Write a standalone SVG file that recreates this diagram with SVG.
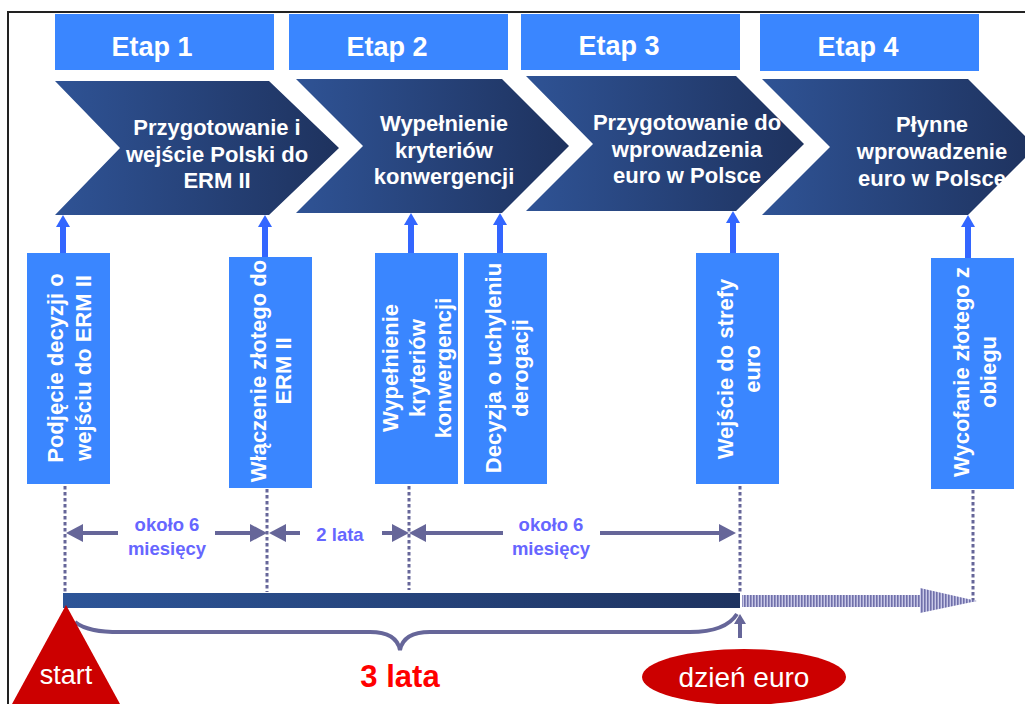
<svg xmlns="http://www.w3.org/2000/svg" width="1025" height="704" viewBox="0 0 1025 704">
<defs>
<linearGradient id="chev" x1="0" y1="0" x2="1" y2="0">
<stop offset="0" stop-color="#2f5395"/>
<stop offset="1" stop-color="#1e325e"/>
</linearGradient>
<linearGradient id="bar" x1="0" y1="0" x2="1" y2="0">
<stop offset="0" stop-color="#2d5598"/>
<stop offset="1" stop-color="#1e3360"/>
</linearGradient>
<pattern id="stripes" x="0" y="0" width="3" height="10" patternUnits="userSpaceOnUse">
<rect width="3" height="10" fill="#c9c9e8"/>
<rect width="1.6" height="10" fill="#7070aa"/>
</pattern>
<marker id="dh" viewBox="0 0 17 18" refX="3" refY="9" markerWidth="17" markerHeight="18" markerUnits="userSpaceOnUse" orient="auto">
<path d="M0,0 L17,9 L0,18 z" fill="#666699"/>
</marker>
<marker id="bh" viewBox="0 0 12 14" refX="2" refY="7" markerWidth="12" markerHeight="14" markerUnits="userSpaceOnUse" orient="auto">
<path d="M0,0 L12,7 L0,14 z" fill="#3366ff"/>
</marker>
<marker id="uh" viewBox="0 0 10 12" refX="2" refY="6" markerWidth="10" markerHeight="12" markerUnits="userSpaceOnUse" orient="auto">
<path d="M0,0 L10,6 L0,12 z" fill="#666699"/>
</marker>
</defs>
<style>
.etap{fill:#3a86ff}
.etxt{font-family:"Liberation Sans",Arial,sans-serif;font-weight:bold;font-size:27px;fill:#fff;text-anchor:middle}
.chev{fill:url(#chev)}
.ctxt{font-family:"Liberation Sans",Arial,sans-serif;font-weight:bold;font-size:22px;fill:#fff;text-anchor:middle}
.box{fill:#3a86ff}
.btxt{font-family:"Liberation Sans",Arial,sans-serif;font-weight:bold;font-size:22px;fill:#fff;text-anchor:middle}
.up{stroke:#3366ff;stroke-width:6;fill:none;marker-end:url(#bh)}
.dot{stroke:#666699;stroke-width:3;stroke-dasharray:3.5 2.5;fill:none}
.dur{stroke:#666699;stroke-width:4;fill:none;marker-end:url(#dh)}
.ltxt{font-family:"Liberation Sans",Arial,sans-serif;font-weight:bold;font-size:18.5px;fill:#6666ff;text-anchor:middle}
</style>
<rect x="8" y="12" width="1030" height="700" fill="none" stroke="#222" stroke-width="2"/>

<g id="etap1"><rect class="etap" x="55" y="14" width="219" height="56"/><text class="etxt" x="152" y="56">Etap 1</text></g>
<g id="etap2"><rect class="etap" x="289" y="14" width="219" height="56"/><text class="etxt" x="387" y="56">Etap 2</text></g>
<g id="etap3"><rect class="etap" x="521" y="14" width="219" height="56"/><text class="etxt" x="619" y="55">Etap 3</text></g>
<g id="etap4"><rect class="etap" x="760" y="14" width="219" height="57"/><text class="etxt" x="858" y="56">Etap 4</text></g>

<g id="chevron1"><path class="chev" d="M55,81 L269,81 L339,148 L269,215 L55,215 L120,148 z"/>
<text class="ctxt"><tspan x="217" y="135">Przygotowanie i</tspan><tspan x="217" y="162">wejście Polski do</tspan><tspan x="217" y="188">ERM II</tspan></text></g>
<g id="chevron2"><path class="chev" d="M296,79 L502,79 L569,146 L502,213 L296,213 L363,146 z"/>
<text class="ctxt"><tspan x="444" y="131">Wypełnienie</tspan><tspan x="444" y="158">kryteriów</tspan><tspan x="444" y="184">konwergencji</tspan></text></g>
<g id="chevron3"><path class="chev" d="M526,76 L736,76 L804,144 L736,211 L526,211 L593,144 z"/>
<text class="ctxt"><tspan x="687" y="130">Przygotowanie do</tspan><tspan x="687" y="157">wprowadzenia</tspan><tspan x="687" y="183">euro w Polsce</tspan></text></g>
<g id="chevron4"><path class="chev" d="M762,79 L968,79 L1036,147 L968,215 L762,215 L830,147 z"/>
<text class="ctxt"><tspan x="932" y="132">Płynne</tspan><tspan x="932" y="159">wprowadzenie</tspan><tspan x="932" y="186">euro w Polsce</tspan></text></g>

<g id="connectors">
<line class="up" x1="63" y1="254" x2="63" y2="225"/>
<line class="up" x1="265" y1="258" x2="265" y2="225"/>
<line class="up" x1="411" y1="254" x2="411" y2="223"/>
<line class="up" x1="500" y1="254" x2="500" y2="223"/>
<line class="up" x1="733" y1="254" x2="733" y2="221"/>
<line class="up" x1="968" y1="259" x2="968" y2="225"/>
<line class="dot" x1="65" y1="486" x2="65" y2="592"/>
<line class="dot" x1="267" y1="489" x2="267" y2="592"/>
<line class="dot" x1="409" y1="486" x2="409" y2="590"/>
<line class="dot" x1="740" y1="486" x2="740" y2="594"/>
<line class="dot" x1="973" y1="490" x2="973" y2="603"/>
<line class="dur" x1="118" y1="533" x2="80" y2="533"/>
<line class="dur" x1="215" y1="533" x2="253" y2="533"/>
<line class="dur" x1="300" y1="533" x2="283" y2="533"/>
<line class="dur" x1="382" y1="533" x2="395" y2="533"/>
<line class="dur" x1="503" y1="533" x2="423" y2="533"/>
<line class="dur" x1="600" y1="533" x2="722" y2="533"/>
<path d="M75,622 C85,630 100,632 120,632 L370,632 C390,632 398,640 400,650 C402,640 410,632 430,632 L690,632 C715,632 730,625 737,614" fill="none" stroke="#666699" stroke-width="4"/>
<line x1="740" y1="638" x2="740" y2="622" stroke="#666699" stroke-width="4" marker-end="url(#uh)"/>
</g>

<g id="box1"><rect class="box" x="27" y="253" width="83" height="231"/>
<text class="btxt" transform="translate(68.5,368) rotate(-90)"><tspan x="0" y="-6">Podjęcie decyzji o</tspan><tspan x="0" y="22">wejściu do ERM II</tspan></text></g>
<g id="box2"><rect class="box" x="229" y="257" width="83" height="231"/>
<text class="btxt" transform="translate(270.5,371) rotate(-90)"><tspan x="0" y="-5">Włączenie złotego do</tspan><tspan x="0" y="20">ERM II</tspan></text></g>
<g id="box3"><rect class="box" x="375" y="253" width="83" height="231"/>
<text class="btxt" transform="translate(416.5,368) rotate(-90)"><tspan x="0" y="-19">Wypełnienie</tspan><tspan x="0" y="8">kryteriów</tspan><tspan x="0" y="34">konwergencji</tspan></text></g>
<g id="box4"><rect class="box" x="464" y="253" width="83" height="231"/>
<text class="btxt" transform="translate(505.5,368) rotate(-90)"><tspan x="0" y="-5">Decyzja o uchyleniu</tspan><tspan x="0" y="22">derogacji</tspan></text></g>
<g id="box5"><rect class="box" x="696" y="253" width="83" height="231"/>
<text class="btxt" transform="translate(737.5,369) rotate(-90)"><tspan x="0" y="-5">Wejście do strefy</tspan><tspan x="0" y="22">euro</tspan></text></g>
<g id="box6"><rect class="box" x="931" y="258" width="83" height="231"/>
<text class="btxt" transform="translate(972.5,372) rotate(-90)"><tspan x="0" y="-4">Wycofanie złotego z</tspan><tspan x="0" y="23">obiegu</tspan></text></g>

<g id="labels">
<text class="ltxt"><tspan x="167" y="531">około 6</tspan><tspan x="167" y="555">miesięcy</tspan></text>
<text class="ltxt" x="340" y="541">2 lata</text>
<text class="ltxt"><tspan x="551" y="531">około 6</tspan><tspan x="551" y="555">miesięcy</tspan></text>
</g>

<g id="timeline">
<rect x="63" y="593" width="677" height="15" fill="url(#bar)"/>
<path d="M742,595 L920,595 L920,588 L977,601 L920,613 L920,607 L742,607 z" fill="url(#stripes)"/>
</g>

<g id="start">
<path d="M66,605 L120,704 L12,704 z" fill="#cc0000"/>
<text x="66" y="684" font-family="Liberation Sans, Arial, sans-serif" font-size="27" fill="#fff" text-anchor="middle">start</text>
</g>
<g id="three-years">
<text x="400" y="687" font-family="Liberation Sans, Arial, sans-serif" font-size="31" font-weight="bold" fill="#ff0000" text-anchor="middle">3 lata</text>
</g>
<g id="euro-day">
<ellipse cx="744" cy="677" rx="102" ry="28" fill="#cc0000"/>
<text x="744" y="687" font-family="Liberation Sans, Arial, sans-serif" font-size="28" fill="#fff" text-anchor="middle">dzień euro</text>
</g>
</svg>
